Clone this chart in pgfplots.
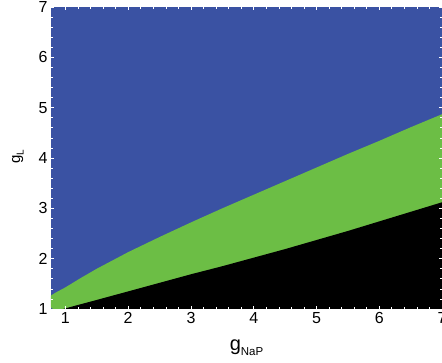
\documentclass[border=0pt]{standalone}
\usepackage{fontspec}
\setmainfont{Liberation Sans}
\usepackage{pgfplots}
\pgfplotsset{compat=1.18}

\definecolor{regionblue}{RGB}{58,82,163}
\definecolor{regiongreen}{RGB}{108,190,69}

\begin{document}
\begin{tikzpicture}
\begin{axis}[
  scale only axis,
  width=391pt, height=302pt,
  xmin=0.77, xmax=7, ymin=1, ymax=7,
  xtick={1,...,7}, ytick={1,...,7},
  minor x tick num=4, minor y tick num=4,
  tick align=inside,
  tick style={white, line width=0.6pt},
  major tick length=3pt, minor tick length=2pt,
  axis line style={draw=none},
  axis on top,
  /pgf/number format/assume math mode=true,
  ticklabel style={font=\fontsize{16}{18}\selectfont},
  xlabel={\fontsize{20}{22}\selectfont g\raisebox{-4.5pt}{\fontsize{11.5}{13}\selectfont NaP}},
  xlabel style={at={(axis description cs:0.5,-0.139)}, anchor=base},
  ylabel={\fontsize{15}{17}\selectfont g\raisebox{-3.5pt}{\fontsize{10}{12}\selectfont L}},
  ylabel style={at={(axis description cs:-0.085,0.505)}, anchor=center},
]
% region above the upper boundary
\addplot[fill=regionblue, draw=none] coordinates {
  (0.77,1) (0.77,7) (7,7) (7,1)
} -- cycle;
% region between the two boundaries
\addplot[fill=regiongreen, draw=none] coordinates {
  (0.77,1.03) (0.77,1.27) (0.85,1.33) (1.0,1.43) (1.25,1.62) (1.5,1.80)
  (2.0,2.13) (2.5,2.43) (3.0,2.72) (3.5,3.00) (4.0,3.27) (4.5,3.54)
  (5.0,3.81) (5.5,4.08) (6.0,4.34) (6.5,4.61) (7.0,4.87) (7,1) (0.8,1)
} -- cycle;
% region below the lower boundary
\addplot[fill=black, draw=none] coordinates {
  (0.96,1.0) (1.5,1.18) (2.0,1.35) (2.5,1.52) (3.0,1.69) (3.5,1.85)
  (4.0,2.02) (4.5,2.19) (5.0,2.37) (5.5,2.55) (6.0,2.74) (6.5,2.93)
  (7.0,3.12) (7,1)
} -- cycle;
\end{axis}
\pgfresetboundingbox
\path[use as bounding box]
  ([xshift=-51pt,yshift=-54pt]current axis.south west)
  rectangle ([yshift=7pt]current axis.north east);
\end{tikzpicture}
\end{document}
